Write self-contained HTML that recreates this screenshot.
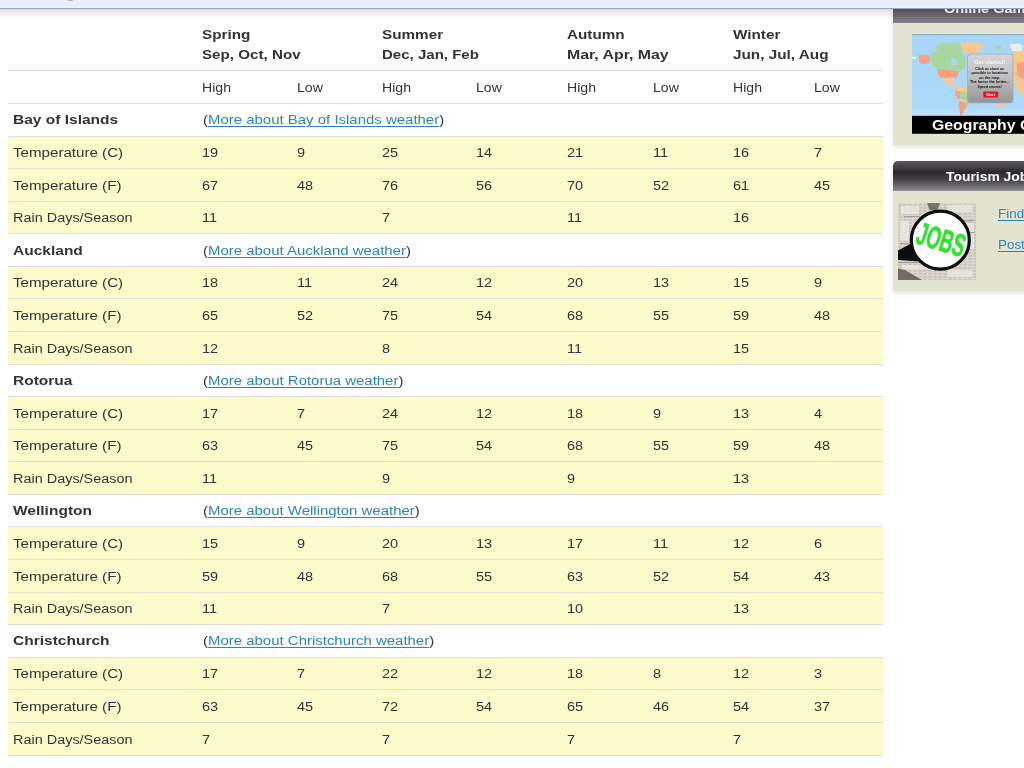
<!DOCTYPE html>
<html><head><meta charset="utf-8">
<style>
html,body{margin:0;padding:0;width:1024px;height:768px;overflow:hidden;background:#fff;}
body{position:relative;font-family:"Liberation Sans",sans-serif;color:#333;}
.t{position:absolute;white-space:nowrap;line-height:1;transform-origin:0 0;z-index:3;}
.t a{color:#2a86b8;text-decoration:underline;text-underline-offset:1.5px;}
.ln{position:absolute;left:8px;width:874.6px;height:1px;background:#e0e0e0;z-index:2;}
.ln.y{background:#e2e0cc;}
.yb{position:absolute;left:8px;width:874.6px;background:#fdfbcb;z-index:1;}
#topbar{position:absolute;left:0;top:0;width:1024px;height:8px;background:#e8effa;border-bottom:1px solid #90a4c9;z-index:10;}
.pan{position:absolute;left:893px;width:160px;background:#e2e4d0;box-shadow:0 2px 5px rgba(0,0,0,0.12);}
.phd{position:absolute;left:893px;width:160px;}
#topsh{position:absolute;left:0;top:9px;width:1024px;height:10px;background:linear-gradient(rgba(70,80,120,0.2),rgba(90,70,50,0.13) 20%,rgba(90,70,50,0) 100%);z-index:9;}
</style></head><body>
<div id="topbar"><div style="position:absolute;left:0;top:6px;width:1024px;height:2px;background:#eff4fc;"></div><div style="position:absolute;left:65px;top:-7.6px;width:11px;height:8.5px;border-radius:50%;background:#a9adb5;"></div></div><div id="topsh"></div>
<div class="t " style="left:202.30px;top:27.56px;font-size:13.4px;transform:scaleX(1.14);font-weight:bold;">Spring</div>
<div class="t " style="left:202.30px;top:47.96px;font-size:13.4px;transform:scaleX(1.1328358208955225);font-weight:bold;">Sep, Oct, Nov</div>
<div class="t " style="left:381.80px;top:27.56px;font-size:13.4px;transform:scaleX(1.14);font-weight:bold;">Summer</div>
<div class="t " style="left:381.80px;top:47.96px;font-size:13.4px;transform:scaleX(1.1225373134328358);font-weight:bold;">Dec, Jan, Feb</div>
<div class="t " style="left:567.40px;top:27.56px;font-size:13.4px;transform:scaleX(1.14);font-weight:bold;">Autumn</div>
<div class="t " style="left:567.40px;top:47.96px;font-size:13.4px;transform:scaleX(1.1843283582089552);font-weight:bold;">Mar, Apr, May</div>
<div class="t " style="left:733.00px;top:27.56px;font-size:13.4px;transform:scaleX(1.14);font-weight:bold;">Winter</div>
<div class="t " style="left:733.00px;top:47.96px;font-size:13.4px;transform:scaleX(1.143134328358209);font-weight:bold;">Jun, Jul, Aug</div>
<div class="ln" style="top:70px"></div>
<div class="t " style="left:202.30px;top:80.80px;font-size:13.7px;transform:scaleX(1.03);">High</div>
<div class="t " style="left:296.80px;top:80.80px;font-size:13.7px;transform:scaleX(1.03);">Low</div>
<div class="t " style="left:381.80px;top:80.80px;font-size:13.7px;transform:scaleX(1.03);">High</div>
<div class="t " style="left:476.30px;top:80.80px;font-size:13.7px;transform:scaleX(1.03);">Low</div>
<div class="t " style="left:567.40px;top:80.80px;font-size:13.7px;transform:scaleX(1.03);">High</div>
<div class="t " style="left:653.00px;top:80.80px;font-size:13.7px;transform:scaleX(1.03);">Low</div>
<div class="t " style="left:733.00px;top:80.80px;font-size:13.7px;transform:scaleX(1.03);">High</div>
<div class="t " style="left:814.20px;top:80.80px;font-size:13.7px;transform:scaleX(1.03);">Low</div>
<div class="ln" style="top:102.6px"></div>
<div class="t " style="left:13.20px;top:113.26px;font-size:13.4px;transform:scaleX(1.1585820895522387);font-weight:bold;">Bay of Islands</div>
<div class="t " style="left:202.50px;top:113.20px;font-size:13.7px;transform:scaleX(1.093);">(<a>More about Bay of Islands weather</a>)</div>
<div class="ln" style="top:135.57px"></div>
<div class="yb" style="top:135.57px;height:32.58px"></div>
<div class="t " style="left:13.20px;top:146.18px;font-size:13.7px;transform:scaleX(1.105);">Temperature (C)</div>
<div class="t " style="left:202.30px;top:146.18px;font-size:13.7px;transform:scaleX(1.06);">19</div>
<div class="t " style="left:296.80px;top:146.18px;font-size:13.7px;transform:scaleX(1.06);">9</div>
<div class="t " style="left:381.80px;top:146.18px;font-size:13.7px;transform:scaleX(1.06);">25</div>
<div class="t " style="left:476.30px;top:146.18px;font-size:13.7px;transform:scaleX(1.06);">14</div>
<div class="t " style="left:567.40px;top:146.18px;font-size:13.7px;transform:scaleX(1.06);">21</div>
<div class="t " style="left:653.00px;top:146.18px;font-size:13.7px;transform:scaleX(1.06);">11</div>
<div class="t " style="left:733.00px;top:146.18px;font-size:13.7px;transform:scaleX(1.06);">16</div>
<div class="t " style="left:814.20px;top:146.18px;font-size:13.7px;transform:scaleX(1.06);">7</div>
<div class="ln y" style="top:168.15px"></div>
<div class="yb" style="top:168.15px;height:32.58px"></div>
<div class="t " style="left:13.20px;top:178.75px;font-size:13.7px;transform:scaleX(1.105);">Temperature (F)</div>
<div class="t " style="left:202.30px;top:178.75px;font-size:13.7px;transform:scaleX(1.06);">67</div>
<div class="t " style="left:296.80px;top:178.75px;font-size:13.7px;transform:scaleX(1.06);">48</div>
<div class="t " style="left:381.80px;top:178.75px;font-size:13.7px;transform:scaleX(1.06);">76</div>
<div class="t " style="left:476.30px;top:178.75px;font-size:13.7px;transform:scaleX(1.06);">56</div>
<div class="t " style="left:567.40px;top:178.75px;font-size:13.7px;transform:scaleX(1.06);">70</div>
<div class="t " style="left:653.00px;top:178.75px;font-size:13.7px;transform:scaleX(1.06);">52</div>
<div class="t " style="left:733.00px;top:178.75px;font-size:13.7px;transform:scaleX(1.06);">61</div>
<div class="t " style="left:814.20px;top:178.75px;font-size:13.7px;transform:scaleX(1.06);">45</div>
<div class="ln y" style="top:200.73px"></div>
<div class="yb" style="top:200.73px;height:32.58px"></div>
<div class="t " style="left:13.20px;top:211.33px;font-size:13.7px;transform:scaleX(1.055);">Rain Days/Season</div>
<div class="t " style="left:202.30px;top:211.33px;font-size:13.7px;transform:scaleX(1.06);">11</div>
<div class="t " style="left:381.80px;top:211.33px;font-size:13.7px;transform:scaleX(1.06);">7</div>
<div class="t " style="left:567.40px;top:211.33px;font-size:13.7px;transform:scaleX(1.06);">11</div>
<div class="t " style="left:733.00px;top:211.33px;font-size:13.7px;transform:scaleX(1.06);">16</div>
<div class="ln y" style="top:233.30px"></div>
<div class="t " style="left:13.20px;top:243.56px;font-size:13.4px;transform:scaleX(1.1585820895522387);font-weight:bold;">Auckland</div>
<div class="t " style="left:202.50px;top:243.50px;font-size:13.7px;transform:scaleX(1.093);">(<a>More about Auckland weather</a>)</div>
<div class="ln" style="top:265.88px"></div>
<div class="yb" style="top:265.88px;height:32.58px"></div>
<div class="t " style="left:13.20px;top:276.48px;font-size:13.7px;transform:scaleX(1.105);">Temperature (C)</div>
<div class="t " style="left:202.30px;top:276.48px;font-size:13.7px;transform:scaleX(1.06);">18</div>
<div class="t " style="left:296.80px;top:276.48px;font-size:13.7px;transform:scaleX(1.06);">11</div>
<div class="t " style="left:381.80px;top:276.48px;font-size:13.7px;transform:scaleX(1.06);">24</div>
<div class="t " style="left:476.30px;top:276.48px;font-size:13.7px;transform:scaleX(1.06);">12</div>
<div class="t " style="left:567.40px;top:276.48px;font-size:13.7px;transform:scaleX(1.06);">20</div>
<div class="t " style="left:653.00px;top:276.48px;font-size:13.7px;transform:scaleX(1.06);">13</div>
<div class="t " style="left:733.00px;top:276.48px;font-size:13.7px;transform:scaleX(1.06);">15</div>
<div class="t " style="left:814.20px;top:276.48px;font-size:13.7px;transform:scaleX(1.06);">9</div>
<div class="ln y" style="top:298.45px"></div>
<div class="yb" style="top:298.45px;height:32.58px"></div>
<div class="t " style="left:13.20px;top:309.05px;font-size:13.7px;transform:scaleX(1.105);">Temperature (F)</div>
<div class="t " style="left:202.30px;top:309.05px;font-size:13.7px;transform:scaleX(1.06);">65</div>
<div class="t " style="left:296.80px;top:309.05px;font-size:13.7px;transform:scaleX(1.06);">52</div>
<div class="t " style="left:381.80px;top:309.05px;font-size:13.7px;transform:scaleX(1.06);">75</div>
<div class="t " style="left:476.30px;top:309.05px;font-size:13.7px;transform:scaleX(1.06);">54</div>
<div class="t " style="left:567.40px;top:309.05px;font-size:13.7px;transform:scaleX(1.06);">68</div>
<div class="t " style="left:653.00px;top:309.05px;font-size:13.7px;transform:scaleX(1.06);">55</div>
<div class="t " style="left:733.00px;top:309.05px;font-size:13.7px;transform:scaleX(1.06);">59</div>
<div class="t " style="left:814.20px;top:309.05px;font-size:13.7px;transform:scaleX(1.06);">48</div>
<div class="ln y" style="top:331.03px"></div>
<div class="yb" style="top:331.03px;height:32.58px"></div>
<div class="t " style="left:13.20px;top:341.63px;font-size:13.7px;transform:scaleX(1.055);">Rain Days/Season</div>
<div class="t " style="left:202.30px;top:341.63px;font-size:13.7px;transform:scaleX(1.06);">12</div>
<div class="t " style="left:381.80px;top:341.63px;font-size:13.7px;transform:scaleX(1.06);">8</div>
<div class="t " style="left:567.40px;top:341.63px;font-size:13.7px;transform:scaleX(1.06);">11</div>
<div class="t " style="left:733.00px;top:341.63px;font-size:13.7px;transform:scaleX(1.06);">15</div>
<div class="ln y" style="top:363.60px"></div>
<div class="t " style="left:13.20px;top:373.86px;font-size:13.4px;transform:scaleX(1.1585820895522387);font-weight:bold;">Rotorua</div>
<div class="t " style="left:202.50px;top:373.80px;font-size:13.7px;transform:scaleX(1.093);">(<a>More about Rotorua weather</a>)</div>
<div class="ln" style="top:396.18px"></div>
<div class="yb" style="top:396.18px;height:32.58px"></div>
<div class="t " style="left:13.20px;top:406.78px;font-size:13.7px;transform:scaleX(1.105);">Temperature (C)</div>
<div class="t " style="left:202.30px;top:406.78px;font-size:13.7px;transform:scaleX(1.06);">17</div>
<div class="t " style="left:296.80px;top:406.78px;font-size:13.7px;transform:scaleX(1.06);">7</div>
<div class="t " style="left:381.80px;top:406.78px;font-size:13.7px;transform:scaleX(1.06);">24</div>
<div class="t " style="left:476.30px;top:406.78px;font-size:13.7px;transform:scaleX(1.06);">12</div>
<div class="t " style="left:567.40px;top:406.78px;font-size:13.7px;transform:scaleX(1.06);">18</div>
<div class="t " style="left:653.00px;top:406.78px;font-size:13.7px;transform:scaleX(1.06);">9</div>
<div class="t " style="left:733.00px;top:406.78px;font-size:13.7px;transform:scaleX(1.06);">13</div>
<div class="t " style="left:814.20px;top:406.78px;font-size:13.7px;transform:scaleX(1.06);">4</div>
<div class="ln y" style="top:428.75px"></div>
<div class="yb" style="top:428.75px;height:32.58px"></div>
<div class="t " style="left:13.20px;top:439.35px;font-size:13.7px;transform:scaleX(1.105);">Temperature (F)</div>
<div class="t " style="left:202.30px;top:439.35px;font-size:13.7px;transform:scaleX(1.06);">63</div>
<div class="t " style="left:296.80px;top:439.35px;font-size:13.7px;transform:scaleX(1.06);">45</div>
<div class="t " style="left:381.80px;top:439.35px;font-size:13.7px;transform:scaleX(1.06);">75</div>
<div class="t " style="left:476.30px;top:439.35px;font-size:13.7px;transform:scaleX(1.06);">54</div>
<div class="t " style="left:567.40px;top:439.35px;font-size:13.7px;transform:scaleX(1.06);">68</div>
<div class="t " style="left:653.00px;top:439.35px;font-size:13.7px;transform:scaleX(1.06);">55</div>
<div class="t " style="left:733.00px;top:439.35px;font-size:13.7px;transform:scaleX(1.06);">59</div>
<div class="t " style="left:814.20px;top:439.35px;font-size:13.7px;transform:scaleX(1.06);">48</div>
<div class="ln y" style="top:461.32px"></div>
<div class="yb" style="top:461.33px;height:32.58px"></div>
<div class="t " style="left:13.20px;top:471.93px;font-size:13.7px;transform:scaleX(1.055);">Rain Days/Season</div>
<div class="t " style="left:202.30px;top:471.93px;font-size:13.7px;transform:scaleX(1.06);">11</div>
<div class="t " style="left:381.80px;top:471.93px;font-size:13.7px;transform:scaleX(1.06);">9</div>
<div class="t " style="left:567.40px;top:471.93px;font-size:13.7px;transform:scaleX(1.06);">9</div>
<div class="t " style="left:733.00px;top:471.93px;font-size:13.7px;transform:scaleX(1.06);">13</div>
<div class="ln y" style="top:493.90px"></div>
<div class="t " style="left:13.20px;top:504.16px;font-size:13.4px;transform:scaleX(1.1585820895522387);font-weight:bold;">Wellington</div>
<div class="t " style="left:202.50px;top:504.10px;font-size:13.7px;transform:scaleX(1.093);">(<a>More about Wellington weather</a>)</div>
<div class="ln" style="top:526.48px"></div>
<div class="yb" style="top:526.48px;height:32.58px"></div>
<div class="t " style="left:13.20px;top:537.08px;font-size:13.7px;transform:scaleX(1.105);">Temperature (C)</div>
<div class="t " style="left:202.30px;top:537.08px;font-size:13.7px;transform:scaleX(1.06);">15</div>
<div class="t " style="left:296.80px;top:537.08px;font-size:13.7px;transform:scaleX(1.06);">9</div>
<div class="t " style="left:381.80px;top:537.08px;font-size:13.7px;transform:scaleX(1.06);">20</div>
<div class="t " style="left:476.30px;top:537.08px;font-size:13.7px;transform:scaleX(1.06);">13</div>
<div class="t " style="left:567.40px;top:537.08px;font-size:13.7px;transform:scaleX(1.06);">17</div>
<div class="t " style="left:653.00px;top:537.08px;font-size:13.7px;transform:scaleX(1.06);">11</div>
<div class="t " style="left:733.00px;top:537.08px;font-size:13.7px;transform:scaleX(1.06);">12</div>
<div class="t " style="left:814.20px;top:537.08px;font-size:13.7px;transform:scaleX(1.06);">6</div>
<div class="ln y" style="top:559.05px"></div>
<div class="yb" style="top:559.05px;height:32.58px"></div>
<div class="t " style="left:13.20px;top:569.65px;font-size:13.7px;transform:scaleX(1.105);">Temperature (F)</div>
<div class="t " style="left:202.30px;top:569.65px;font-size:13.7px;transform:scaleX(1.06);">59</div>
<div class="t " style="left:296.80px;top:569.65px;font-size:13.7px;transform:scaleX(1.06);">48</div>
<div class="t " style="left:381.80px;top:569.65px;font-size:13.7px;transform:scaleX(1.06);">68</div>
<div class="t " style="left:476.30px;top:569.65px;font-size:13.7px;transform:scaleX(1.06);">55</div>
<div class="t " style="left:567.40px;top:569.65px;font-size:13.7px;transform:scaleX(1.06);">63</div>
<div class="t " style="left:653.00px;top:569.65px;font-size:13.7px;transform:scaleX(1.06);">52</div>
<div class="t " style="left:733.00px;top:569.65px;font-size:13.7px;transform:scaleX(1.06);">54</div>
<div class="t " style="left:814.20px;top:569.65px;font-size:13.7px;transform:scaleX(1.06);">43</div>
<div class="ln y" style="top:591.63px"></div>
<div class="yb" style="top:591.62px;height:32.58px"></div>
<div class="t " style="left:13.20px;top:602.23px;font-size:13.7px;transform:scaleX(1.055);">Rain Days/Season</div>
<div class="t " style="left:202.30px;top:602.23px;font-size:13.7px;transform:scaleX(1.06);">11</div>
<div class="t " style="left:381.80px;top:602.23px;font-size:13.7px;transform:scaleX(1.06);">7</div>
<div class="t " style="left:567.40px;top:602.23px;font-size:13.7px;transform:scaleX(1.06);">10</div>
<div class="t " style="left:733.00px;top:602.23px;font-size:13.7px;transform:scaleX(1.06);">13</div>
<div class="ln y" style="top:624.20px"></div>
<div class="t " style="left:13.20px;top:634.46px;font-size:13.4px;transform:scaleX(1.1585820895522387);font-weight:bold;">Christchurch</div>
<div class="t " style="left:202.50px;top:634.40px;font-size:13.7px;transform:scaleX(1.093);">(<a>More about Christchurch weather</a>)</div>
<div class="ln" style="top:656.78px"></div>
<div class="yb" style="top:656.78px;height:32.58px"></div>
<div class="t " style="left:13.20px;top:667.38px;font-size:13.7px;transform:scaleX(1.105);">Temperature (C)</div>
<div class="t " style="left:202.30px;top:667.38px;font-size:13.7px;transform:scaleX(1.06);">17</div>
<div class="t " style="left:296.80px;top:667.38px;font-size:13.7px;transform:scaleX(1.06);">7</div>
<div class="t " style="left:381.80px;top:667.38px;font-size:13.7px;transform:scaleX(1.06);">22</div>
<div class="t " style="left:476.30px;top:667.38px;font-size:13.7px;transform:scaleX(1.06);">12</div>
<div class="t " style="left:567.40px;top:667.38px;font-size:13.7px;transform:scaleX(1.06);">18</div>
<div class="t " style="left:653.00px;top:667.38px;font-size:13.7px;transform:scaleX(1.06);">8</div>
<div class="t " style="left:733.00px;top:667.38px;font-size:13.7px;transform:scaleX(1.06);">12</div>
<div class="t " style="left:814.20px;top:667.38px;font-size:13.7px;transform:scaleX(1.06);">3</div>
<div class="ln y" style="top:689.35px"></div>
<div class="yb" style="top:689.35px;height:32.58px"></div>
<div class="t " style="left:13.20px;top:699.95px;font-size:13.7px;transform:scaleX(1.105);">Temperature (F)</div>
<div class="t " style="left:202.30px;top:699.95px;font-size:13.7px;transform:scaleX(1.06);">63</div>
<div class="t " style="left:296.80px;top:699.95px;font-size:13.7px;transform:scaleX(1.06);">45</div>
<div class="t " style="left:381.80px;top:699.95px;font-size:13.7px;transform:scaleX(1.06);">72</div>
<div class="t " style="left:476.30px;top:699.95px;font-size:13.7px;transform:scaleX(1.06);">54</div>
<div class="t " style="left:567.40px;top:699.95px;font-size:13.7px;transform:scaleX(1.06);">65</div>
<div class="t " style="left:653.00px;top:699.95px;font-size:13.7px;transform:scaleX(1.06);">46</div>
<div class="t " style="left:733.00px;top:699.95px;font-size:13.7px;transform:scaleX(1.06);">54</div>
<div class="t " style="left:814.20px;top:699.95px;font-size:13.7px;transform:scaleX(1.06);">37</div>
<div class="ln y" style="top:721.93px"></div>
<div class="yb" style="top:721.93px;height:32.58px"></div>
<div class="t " style="left:13.20px;top:732.53px;font-size:13.7px;transform:scaleX(1.055);">Rain Days/Season</div>
<div class="t " style="left:202.30px;top:732.53px;font-size:13.7px;transform:scaleX(1.06);">7</div>
<div class="t " style="left:381.80px;top:732.53px;font-size:13.7px;transform:scaleX(1.06);">7</div>
<div class="t " style="left:567.40px;top:732.53px;font-size:13.7px;transform:scaleX(1.06);">7</div>
<div class="t " style="left:733.00px;top:732.53px;font-size:13.7px;transform:scaleX(1.06);">7</div>
<div class="ln y" style="top:754.50px"></div>

<div class="pan" style="top:-30px;height:175px;"></div>
<div class="phd" style="top:-20px;height:42.6px;background:linear-gradient(#2a282a 0%,#454347 55%,#58565a 70%,#86818a 100%);"></div>
<div class="t" style="left:943.6px;top:3.4px;font-size:12.5px;font-weight:bold;color:#fff;transform:scaleX(1.16);">Online Games</div>
<svg style="position:absolute;left:912px;top:34px;" width="112" height="100" viewBox="0 0 112 100">
<defs><linearGradient id="ocean" x1="0" y1="0" x2="0" y2="1"><stop offset="0" stop-color="#a6d5f7"/><stop offset="0.9" stop-color="#acdbfa"/><stop offset="1" stop-color="#c4e4fa"/></linearGradient>
<linearGradient id="dlg" x1="0" y1="0" x2="0" y2="1"><stop offset="0" stop-color="#d6d6d8"/><stop offset="0.5" stop-color="#bdbdbf"/><stop offset="1" stop-color="#959597"/></linearGradient>
<filter id="bl" x="-10%" y="-10%" width="120%" height="120%"><feGaussianBlur stdDeviation="0.45"/></filter></defs>
<rect x="0" y="0" width="112" height="82" fill="url(#ocean)"/>
<rect x="0" y="0" width="112" height="1.3" fill="#8fb0c8"/>
<g filter="url(#bl)">
<polygon points="0,22.5 4,23 4,25 0,24.5" fill="#eef2f0"/>
<polygon points="6.5,21 11,20.5 17.6,21.5 17.6,29 12,30 9,29.5 7,27" fill="#f5a088"/>
<polygon points="17.6,22 20,19.5 24,17 28,15.5 34,17 40,16 46,17 50,19 53,23 54,28 53,33 50,36.5 46,37.5 38,36.5 30,35.5 24.7,35 20,30" fill="#a8d6a0"/>
<polygon points="23,14 26,10.5 31,9 36,10 40,8.5 45,9 50,10.5 51,15 49,19 44,18 38,18.5 32,17.5 27,17" fill="#a8d6a0"/>
<polygon points="38.4,25.5 43,24.5 45.5,27 44.5,31 40,31 38.5,28.5" fill="#a8d7f8"/>
<polygon points="48,10 55,8.5 64,8.8 71,9.5 70,15 64,18.5 56,19.8 51,17" fill="#f8c890"/>
<polygon points="24.7,35 32,35.5 40,36.5 46.8,37 46,40.5 44.5,45 42,43 36,44 30,44.2 26,41" fill="#f6a080"/>
<polygon points="30,44.2 36,44 40,46 42,49 44,53.5 41,53.5 36,50 32,47.5" fill="#f8c890"/>
<polygon points="43,53.5 49,52.5 55,54 55,58 52,58 47,58 44,57" fill="#f8c890"/>
<polygon points="43,56.5 48,57.5 48.5,66 46,65 43.5,61" fill="#f6a080"/>
<polygon points="47.5,57 52,57.5 55,58 55,66 50,65.4 48.5,64" fill="#a8d6a0"/>
<polygon points="46,64.5 50,65.4 55,66 54,69 49,68" fill="#f8c890"/>
<polygon points="47,67 54,68.5 56,71 53,74.5 51,79 48.5,82 47.5,76 46.5,71" fill="#f6a080"/>
<polygon points="54,66 58,68.5 55,73 53,70" fill="#a8d6a0"/>
<polygon points="83.7,12 89.6,11.9 89,14.9 84,14.5" fill="#a8d6a0"/>
<polygon points="97.5,10 106,9.5 111,12 110,17.8 100,17" fill="#e9eeea"/>
<polygon points="101,18 112,17 112,62 106,58 103,50 101,40 100,28" fill="#f8c890"/>
<polygon points="104.5,29.7 112,28 112,44.6 108,44.6 105,38" fill="#f6a080"/>
<polygon points="103,38 106,38 106,42 103,41" fill="#a8d6a0"/>
<polygon points="84.7,68.3 93.6,68.3 92,73.3 86,73" fill="#f8c890"/>
</g>
<rect x="55" y="19.8" width="46.5" height="49.5" rx="4" fill="#9cacbc"/>
<rect x="55.8" y="20.6" width="44.9" height="47.9" rx="3.5" fill="url(#dlg)"/>
<g filter="url(#bl)">
<text x="77.7" y="29.7" font-family="Liberation Sans" font-size="6" font-weight="bold" fill="#f6f6f6" text-anchor="middle" textLength="31" lengthAdjust="spacingAndGlyphs">Get started!</text>
<g font-family="Liberation Sans" font-size="4.2" font-weight="bold" fill="#111" text-anchor="middle">
<text x="77.7" y="35.6" textLength="28.7" lengthAdjust="spacingAndGlyphs">Click as close as</text>
<text x="77.7" y="40.1" textLength="36.6" lengthAdjust="spacingAndGlyphs">possible to locations</text>
<text x="77.7" y="44.6" textLength="21.3" lengthAdjust="spacingAndGlyphs">on the map.</text>
<text x="77.7" y="49" textLength="39.6" lengthAdjust="spacingAndGlyphs">The faster the better...</text>
<text x="77.7" y="53.5" textLength="24.3" lengthAdjust="spacingAndGlyphs">Speed counts!</text></g>
<rect x="71.3" y="57.4" width="14.9" height="6" rx="1" fill="#e5121c"/>
<text x="78.7" y="62" font-family="Liberation Sans" font-size="4" font-weight="bold" fill="#fff" text-anchor="middle">Start</text>
</g>
<rect x="0" y="81.8" width="112" height="18" fill="#000"/>
</svg>
<div class="t" style="left:931.6px;top:118.2px;font-size:14px;font-weight:bold;color:#fff;transform:scaleX(1.13);">Geography Games</div>
<div class="pan" style="top:161.4px;height:129.8px;border-top-left-radius:5px;"></div>
<div class="phd" style="top:161.4px;height:30px;border-top-left-radius:5px;background:linear-gradient(#5c5a5e 0%,#2a282b 38%,#4a484c 65%,#8c8a8e 100%);"></div>
<div class="t" style="left:945.9px;top:170.8px;font-size:12px;font-weight:bold;color:#fff;transform:scaleX(1.157);">Tourism Jobs</div>
<svg style="position:absolute;left:898.3px;top:202.5px;" width="78" height="77" viewBox="0 0 78 77">
<defs><pattern id="np" width="5" height="3" patternUnits="userSpaceOnUse"><rect width="5" height="3" fill="#dbd7cf"/><rect x="0.5" y="1.5" width="3.2" height="0.9" fill="#b3aea6"/></pattern>
<filter id="bl2" x="-10%" y="-10%" width="120%" height="120%"><feGaussianBlur stdDeviation="0.4"/></filter></defs>
<g filter="url(#bl2)">
<rect width="78" height="77" fill="url(#np)"/>
<g fill="#ebe8e2" opacity="0.8"><rect x="3" y="3" width="18" height="8"/><rect x="50" y="2" width="24" height="7"/><rect x="2" y="18" width="9" height="20"/><rect x="66" y="20" width="10" height="26"/><rect x="4" y="62" width="26" height="4"/><rect x="50" y="67" width="24" height="7"/></g>
<g fill="#a6a198"><rect x="6" y="13" width="16" height="1.2"/><rect x="58" y="17" width="18" height="1.4"/><rect x="62" y="29" width="14" height="1.2"/><rect x="2" y="40" width="9" height="1.2"/><rect x="0" y="59" width="26" height="1.2"/></g>
<polygon points="29,0 42,0 39.5,7 31.5,7" fill="#77736c"/>
<polygon points="0,65.5 7,67 24,77 0,77" fill="#6f6b65"/>
<polygon points="0,47.5 15,39.5 22,58.5 0,57" fill="#080808"/>
<circle cx="42.3" cy="37.2" r="29" fill="#fdfdfd" stroke="#080808" stroke-width="3.2"/>
<text x="0" y="0" transform="translate(16.5,40) rotate(17) scale(0.565,1)" font-family="Liberation Sans" font-size="32" font-weight="bold" fill="#2ee22e" stroke="#2ee22e" stroke-width="0.6">JOBS</text>
</g>
</svg>
<div class="t" style="left:998.2px;top:206.8px;font-size:13.7px;transform:scaleX(0.98);"><a>Find Jobs</a></div>
<div class="t" style="left:998.2px;top:237.6px;font-size:13.7px;transform:scaleX(0.98);"><a>Post Jobs</a></div>

</body></html>
